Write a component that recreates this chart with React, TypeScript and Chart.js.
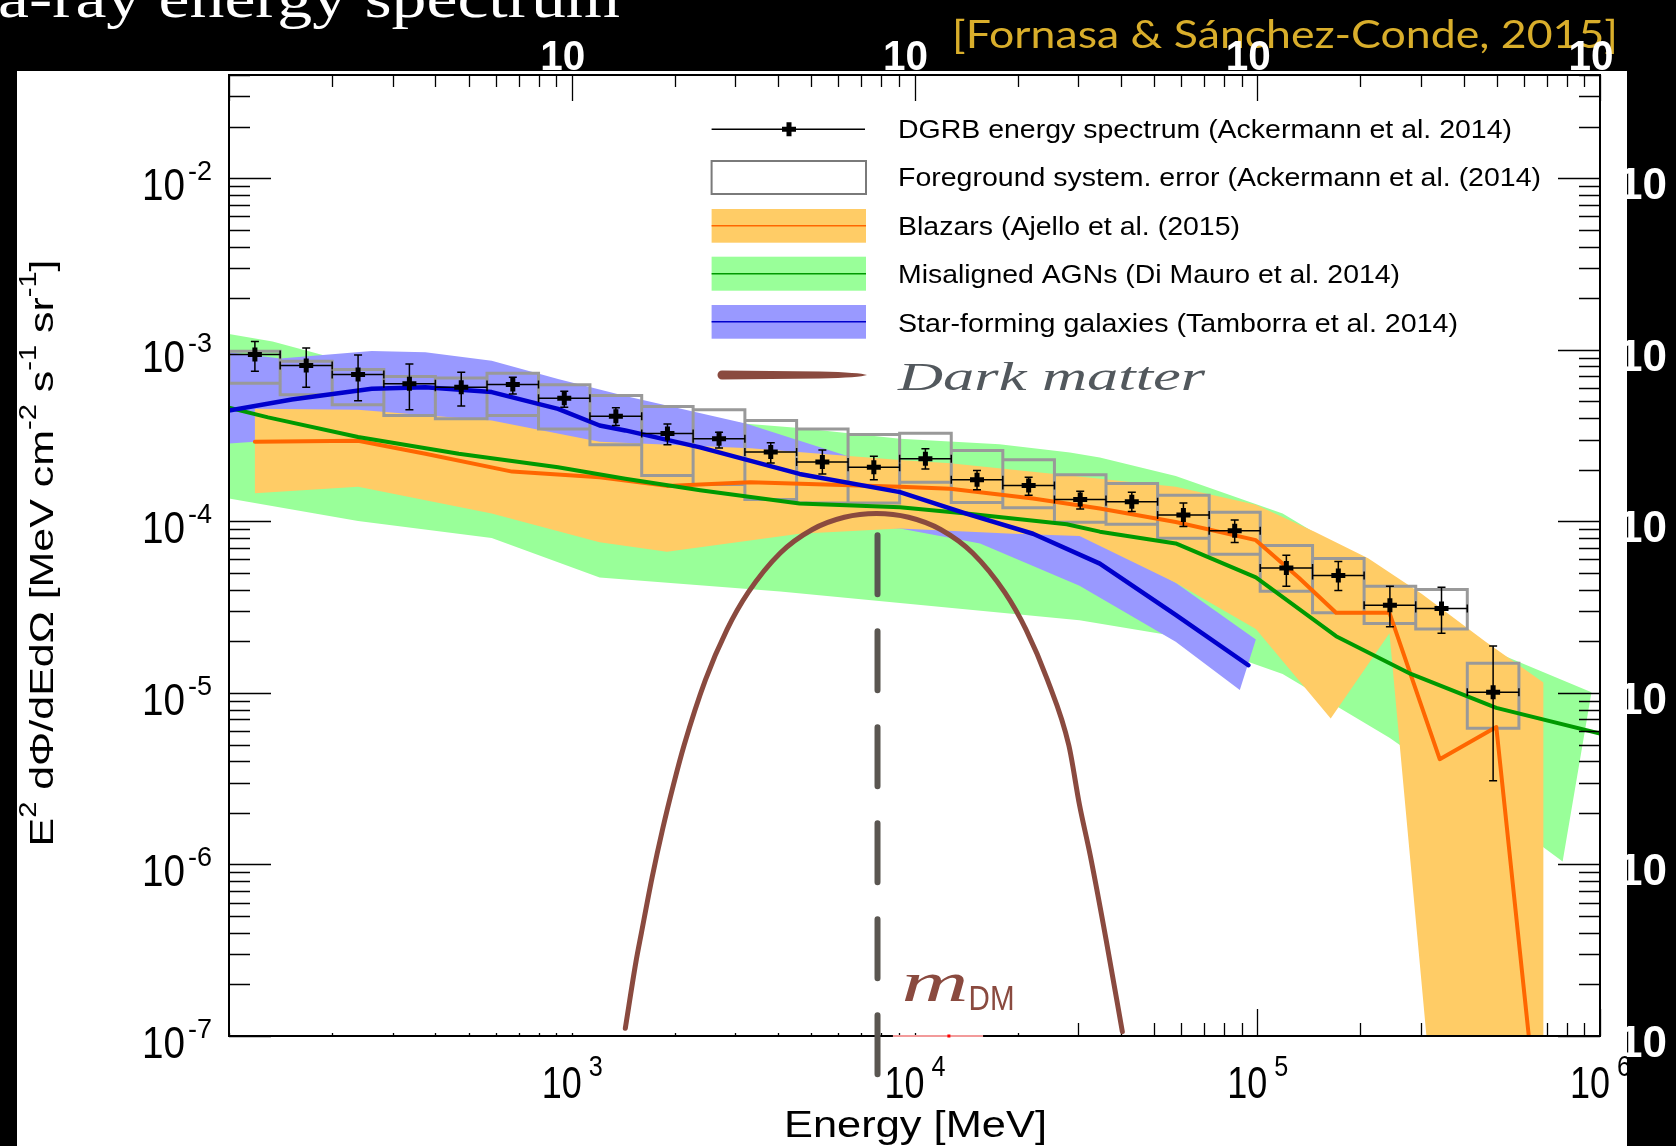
import React, { useEffect, useRef } from 'react';
import { Chart, registerables } from 'chart.js';

Chart.register(...registerables);

const W = 1676;
const H = 1146;

// ---------- texts ----------
const TITLE = 'Gamma-ray energy spectrum';
const TITLE_VISIBLE_TAIL = 'a-ray energy spectrum';
const CITATION = '[Fornasa & Sánchez-Conde, 2015]';
const X_TITLE = 'Energy [MeV]';
const Y_TITLE = [
  { t: 'E', sup: false }, { t: '2', sup: true },
  { t: ' dΦ/dEdΩ [MeV cm', sup: false }, { t: '-2', sup: true },
  { t: ' s', sup: false }, { t: '-1', sup: true },
  { t: ' sr', sup: false }, { t: '-1', sup: true },
  { t: ']', sup: false },
];
const LEGEND_LABELS = [
  'DGRB energy spectrum (Ackermann et al. 2014)',
  'Foreground system. error (Ackermann et al. (2014)',
  'Blazars (Ajello et al. (2015)',
  'Misaligned AGNs (Di Mauro et al. 2014)',
  'Star-forming galaxies (Tamborra et al. 2014)',
  'Dark matter',
];
const M_DM_LABEL = 'm';
const M_DM_SUB = 'DM';

// ---------- axes ----------
const X_MIN = 100;
const X_MAX = 1e6;
const Y_MIN = 1e-7;
const Y_MAX = 0.04;
const X_LABEL_EXP = [3, 4, 5, 6];
const Y_LABEL_EXP = [-2, -3, -4, -5, -6, -7];

// ---------- DGRB data (Ackermann et al. 2014) ----------
const binLoE = [100, 141, 200, 283, 400, 566, 800, 1130, 1600, 2260, 3200, 4530, 6400, 9050, 12800, 18100, 25600, 36200, 51200, 72400, 102000, 145000, 205000, 290000, 410000];
const binHiE = [141, 200, 283, 400, 566, 800, 1130, 1600, 2260, 3200, 4530, 6400, 9050, 12800, 18100, 25600, 36200, 51200, 72400, 102000, 145000, 205000, 290000, 410000, 580000];
const dgrbE = [119, 168, 238, 336, 476, 673, 951, 1345, 1902, 2690, 3807, 5385, 7610, 10760, 15220, 21530, 30440, 43050, 60890, 85940, 121600, 172400, 243800, 344800, 487700];
const dgrbV = [9.38e-4, 8.09e-4, 7.17e-4, 6.35e-4, 6.06e-4, 6.27e-4, 5.22e-4, 4.10e-4, 3.25e-4, 3.03e-4, 2.54e-4, 2.22e-4, 2.07e-4, 2.32e-4, 1.75e-4, 1.62e-4, 1.34e-4, 1.30e-4, 1.09e-4, 8.83e-5, 5.35e-5, 4.83e-5, 3.24e-5, 3.10e-5, 1.01e-5];
const dgrbErrHi = [1.12e-3, 1.026e-3, 9.34e-4, 8.28e-4, 7.40e-4, 6.92e-4, 5.73e-4, 4.59e-4, 3.70e-4, 3.31e-4, 2.87e-4, 2.61e-4, 2.40e-4, 2.65e-4, 1.98e-4, 1.81e-4, 1.50e-4, 1.48e-4, 1.28e-4, 1.02e-4, 6.35e-5, 5.84e-5, 4.19e-5, 4.13e-5, 1.88e-5];
const dgrbErrLo = [7.49e-4, 6.05e-4, 5.04e-4, 4.47e-4, 4.71e-4, 5.53e-4, 4.63e-4, 3.62e-4, 2.80e-4, 2.68e-4, 2.19e-4, 1.89e-4, 1.75e-4, 2.02e-4, 1.53e-4, 1.42e-4, 1.18e-4, 1.14e-4, 9.34e-5, 7.53e-5, 4.19e-5, 3.96e-5, 2.43e-5, 2.23e-5, 3.08e-6];
// foreground systematic error boxes
const fgSysHi = [9.80e-4, 8.57e-4, 7.67e-4, 6.98e-4, 6.86e-4, 7.30e-4, 6.25e-4, 5.41e-4, 4.67e-4, 4.47e-4, 3.87e-4, 3.46e-4, 3.21e-4, 3.26e-4, 2.59e-4, 2.29e-4, 1.87e-4, 1.66e-4, 1.42e-4, 1.13e-4, 7.24e-5, 6.08e-5, 4.19e-5, 4.01e-5, 1.49e-5];
const fgSysLo = [6.38e-4, 5.48e-4, 4.78e-4, 4.14e-4, 3.96e-4, 4.14e-4, 3.46e-4, 2.80e-4, 1.85e-4, 1.64e-4, 1.34e-4, 1.28e-4, 1.28e-4, 1.69e-4, 1.29e-4, 1.20e-4, 9.89e-5, 9.62e-5, 7.98e-5, 6.44e-5, 3.91e-5, 2.93e-5, 2.54e-5, 2.36e-5, 6.22e-6];

// ---------- Misaligned AGNs (green) ----------
const agnUpperE = [100, 134, 190, 380, 779, 1596, 3236, 4617, 9070, 17690, 28410, 34730, 57820, 118600, 243100, 498300, 944300];
const agnUpperV = [1.237e-3, 1.118e-3, 9.28e-4, 7.38e-4, 5.87e-4, 4.66e-4, 3.71e-4, 3.50e-4, 3.03e-4, 2.82e-4, 2.52e-4, 2.36e-4, 1.84e-4, 1.11e-4, 4.71e-5, 1.72e-5, 1.01e-5];
const agnLowerE = [100, 238, 584, 1206, 4059, 30300, 57820, 118600, 243100, 498300, 778000];
const agnLowerV = [1.36e-4, 1.006e-4, 7.99e-5, 4.71e-5, 3.90e-5, 2.65e-5, 2.14e-5, 1.29e-5, 5.48e-6, 2.01e-6, 1.04e-6];
const agnLineE = [100, 130, 238, 468, 912, 1433, 2369, 4617, 9070, 14160, 27800, 34730, 57820, 99060, 169800, 280600, 498300, 1000000];
const agnLineV = [4.60e-4, 4.04e-4, 3.10e-4, 2.48e-4, 2.07e-4, 1.77e-4, 1.52e-4, 1.27e-4, 1.21e-4, 1.11e-4, 9.63e-5, 8.71e-5, 7.44e-5, 4.71e-5, 2.14e-5, 1.29e-5, 8.18e-6, 5.8e-6];

// ---------- Star-forming galaxies (blue) ----------
const sfgUpperE = [100, 141, 261, 374, 584, 912, 1433, 3236, 6471, 13760, 28200, 57820, 99060];
const sfgUpperV = [9.69e-4, 8.89e-4, 9.83e-4, 9.69e-4, 8.64e-4, 6.77e-4, 5.38e-4, 3.71e-4, 2.38e-4, 1.78e-4, 9.63e-5, 4.38e-5, 2.05e-5];
const sfgLowerE = [100, 119, 380, 1206, 3272, 9070, 15540, 30300, 57820, 88950];
const sfgLowerV = [2.84e-4, 2.91e-4, 1.97e-4, 1.28e-4, 9.91e-5, 9.10e-5, 7.44e-5, 4.22e-5, 1.99e-5, 1.04e-5];
const sfgLineE = [100, 152.5, 261, 374, 584, 912, 1206, 1433, 2369, 4617, 9070, 14160, 22170, 34730, 57820, 94220];
const sfgLineV = [4.43e-4, 5.13e-4, 5.93e-4, 6.05e-4, 5.67e-4, 4.53e-4, 3.62e-4, 3.39e-4, 2.70e-4, 1.89e-4, 1.48e-4, 1.11e-4, 8.47e-5, 5.67e-5, 2.85e-5, 1.45e-5];

// ---------- Blazars (orange) ----------
const blzUpperE = [119, 238, 374, 584, 1206, 3320, 9070, 12710, 27800, 57820, 99060, 147000, 210600, 301600, 463800, 683500];
const blzUpperV = [4.53e-4, 4.47e-4, 4.16e-4, 3.87e-4, 2.91e-4, 2.67e-4, 2.28e-4, 2.18e-4, 1.86e-4, 1.59e-4, 1.25e-4, 8.71e-5, 6.09e-5, 3.79e-5, 1.99e-5, 1.15e-5];
const blzLowerE = [119, 238, 584, 1206, 1896, 4617, 9070, 19420, 30300, 57820, 99060, 163800, 243100, 321700, 683500];
const blzLowerV = [1.46e-4, 1.59e-4, 1.11e-4, 7.55e-5, 6.64e-5, 8.47e-5, 9.10e-5, 8.47e-5, 8.23e-5, 4.38e-5, 2.36e-5, 7.09e-6, 2.23e-5, 5e-8, 5e-8];
const blzLineE = [119, 238, 374, 670, 1206, 1896, 3320, 9070, 12710, 22170, 34730, 57820, 99060, 132000, 169800, 243100, 340700, 498300, 627100];
const blzLineV = [2.91e-4, 2.95e-4, 2.48e-4, 1.95e-4, 1.81e-4, 1.61e-4, 1.69e-4, 1.59e-4, 1.55e-4, 1.36e-4, 1.19e-4, 9.91e-5, 7.77e-5, 4.71e-5, 2.93e-5, 2.93e-5, 4.11e-6, 6.32e-6, 8.0e-8];

// ---------- Dark matter ----------
const dmE = [1433, 1539, 1596, 1715, 1843, 1980, 2127, 2455, 2835, 3272, 4059, 5034, 6243, 7745, 9610, 11920, 14780, 18340, 21170, 24430, 28200, 30300, 32560, 36270, 40400];
const dmV = [1.109e-7, 2.70e-7, 3.97e-7, 8.37e-7, 1.62e-6, 2.91e-6, 4.95e-6, 1.19e-5, 2.33e-5, 3.85e-5, 6.54e-5, 8.97e-5, 1.057e-4, 1.112e-4, 1.057e-4, 8.97e-5, 6.54e-5, 3.85e-5, 2.33e-5, 1.19e-5, 4.95e-6, 2.22e-6, 1.13e-6, 3.59e-7, 1.06e-7];
const M_DM = 7800;
const DM_DASH_TOP = 8.3e-5;
const AXIS_MARK_E = [8650, 15850];
const AXIS_MARK_DOT_E = 12600;

// ---------- colours ----------
const C_GREEN_BAND = '#99FF99';
const C_BLUE_BAND = '#9999FF';
const C_ORANGE_BAND = '#FFCC66';
const C_GREEN = '#009900';
const C_BLUE = '#0000CC';
const C_ORANGE = '#FF6600';
const C_BOX = '#999999';
const C_DM = '#8A4A3F';
const C_GOLD = '#D9AE2B';
const FONT = '"Liberation Sans", Arial, sans-serif';

// ---------- helpers ----------
const line = (e: number[], v: number[]) => e.map((x, i) => ({ x, y: v[i] }));
const band = (ue: number[], uv: number[], le: number[], lv: number[]) => {
  const pts = line(ue, uv);
  for (let i = le.length - 1; i >= 0; i--) pts.push({ x: le[i], y: lv[i] });
  return pts;
};
const boxes = () => {
  const pts: any[] = [];
  for (let i = 0; i < binLoE.length; i++) {
    pts.push({ x: binLoE[i], y: fgSysHi[i] }, { x: binHiE[i], y: fgSysHi[i] }, { x: binHiE[i], y: fgSysLo[i] },
      { x: binLoE[i], y: fgSysLo[i] }, { x: binLoE[i], y: fgSysHi[i] }, { x: binLoE[i], y: null });
  }
  return pts;
};

function fitText(ctx: CanvasRenderingContext2D, text: string, x: number, y: number, font: string, width: number, align = 'left') {
  ctx.font = font;
  const w = ctx.measureText(text).width;
  const s = width / w;
  ctx.save();
  ctx.translate(x, y);
  ctx.scale(s, 1);
  ctx.textAlign = 'left';
  ctx.textBaseline = 'alphabetic';
  const off = align === 'left' ? 0 : align === 'center' ? -w / 2 : -w;
  ctx.fillText(text, off, 0);
  ctx.restore();
}

function richText(ctx: CanvasRenderingContext2D, segs: { t: string; sup: boolean }[], width: number, font: string, supFont: string, rise: number) {
  let total = 0;
  const ws = segs.map((s) => {
    ctx.font = s.sup ? supFont : font;
    const w = ctx.measureText(s.t).width;
    total += w;
    return w;
  });
  ctx.save();
  ctx.scale(width / total, 1);
  ctx.textAlign = 'left';
  ctx.textBaseline = 'alphabetic';
  let x = -total / 2;
  segs.forEach((s, i) => {
    ctx.font = s.sup ? supFont : font;
    ctx.fillText(s.t, x, s.sup ? -rise : 0);
    x += ws[i];
  });
  ctx.restore();
}

function tickValues(lo: number, hi: number, dMin: number, dMax: number) {
  const out: { v: number; major: boolean }[] = [];
  for (let d = dMin; d <= dMax; d++) {
    for (let m = 1; m <= 9; m++) {
      const v = m * Math.pow(10, d);
      if (v >= lo * 0.999 && v <= hi * 1.001) out.push({ v, major: m === 1 });
    }
  }
  return out;
}

// ---------- plugins ----------
const backgroundPlugin = {
  id: 'slideBackground',
  beforeDraw(chart: any) {
    const ctx: CanvasRenderingContext2D = chart.ctx;
    const xs = chart.scales.x;
    const ys = chart.scales.y;
    ctx.save();
    ctx.fillStyle = '#000';
    ctx.fillRect(0, 0, W, H);
    // slide title (cut by the top of the screen)
    ctx.fillStyle = '#fff';
    ctx.font = '56px "Liberation Serif", serif';
    const wf = ctx.measureText(TITLE).width;
    const wt = ctx.measureText(TITLE_VISIBLE_TAIL).width;
    const s = 622 / wt;
    ctx.save();
    ctx.translate(620 - wf * s, 17);
    ctx.scale(s, 1);
    ctx.textBaseline = 'alphabetic';
    ctx.fillText(TITLE, 0, 0);
    ctx.restore();
    // citation
    ctx.fillStyle = C_GOLD;
    fitText(ctx, CITATION, 952, 48, '39px Lato, "Open Sans", sans-serif', 666);
    // stray axis labels on the black border
    ctx.fillStyle = '#fff';
    for (const d of X_LABEL_EXP) {
      fitText(ctx, '10', xs.getPixelForValue(Math.pow(10, d)) - 9, 70, 'bold 42px ' + FONT, 45, 'center');
    }
    for (const d of Y_LABEL_EXP) {
      fitText(ctx, '10', 1618, ys.getPixelForValue(Math.pow(10, d)) + 21, 'bold 44px ' + FONT, 49);
    }
    // white figure page
    ctx.fillStyle = '#fff';
    ctx.fillRect(17, 71, 1627 - 17, H - 71);
    ctx.restore();
  },
  beforeDatasetsDraw(chart: any) {
    const ctx: CanvasRenderingContext2D = chart.ctx;
    const xs = chart.scales.x;
    const ys = chart.scales.y;
    const { left, top, bottom } = chart.chartArea;
    ctx.save();
    ctx.strokeStyle = '#000';
    ctx.lineWidth = 1.3;
    ctx.beginPath();
    for (const t of tickValues(X_MIN, X_MAX, 2, 6)) {
      const px = Math.round(xs.getPixelForValue(t.v)) + 0.5;
      ctx.moveTo(px, top);
      ctx.lineTo(px, top + (t.major ? 26 : 12));
      const len = t.v < 2.5e4 ? 3 : t.major ? 27 : 13;
      ctx.moveTo(px, bottom);
      ctx.lineTo(px, bottom - len);
    }
    for (const t of tickValues(Y_MIN, Y_MAX, -7, -2)) {
      const py = Math.round(ys.getPixelForValue(t.v)) + 0.5;
      ctx.moveTo(left, py);
      ctx.lineTo(left + (t.major ? 42 : 21), py);
    }
    ctx.stroke();
    ctx.restore();
  },
};

const POINTS_LABEL = 'dgrb-points';
const errorBarPlugin = {
  id: 'errorBars',
  beforeDatasetDraw(chart: any, args: any) {
    if (chart.data.datasets[args.index].label !== POINTS_LABEL) return;
    const ctx: CanvasRenderingContext2D = chart.ctx;
    const xs = chart.scales.x;
    const ys = chart.scales.y;
    ctx.save();
    ctx.strokeStyle = '#000';
    ctx.lineWidth = 1.5;
    ctx.beginPath();
    for (let i = 0; i < dgrbE.length; i++) {
      const x = xs.getPixelForValue(dgrbE[i]);
      const y = ys.getPixelForValue(dgrbV[i]);
      const x0 = xs.getPixelForValue(binLoE[i]);
      const x1 = xs.getPixelForValue(binHiE[i]);
      const yh = ys.getPixelForValue(dgrbErrHi[i]);
      const yl = ys.getPixelForValue(dgrbErrLo[i]);
      ctx.moveTo(x0, y); ctx.lineTo(x1, y);
      ctx.moveTo(x0, y - 4); ctx.lineTo(x0, y + 4);
      ctx.moveTo(x1, y - 4); ctx.lineTo(x1, y + 4);
      ctx.moveTo(x, yh); ctx.lineTo(x, yl);
      ctx.moveTo(x - 4, yh); ctx.lineTo(x + 4, yh);
      ctx.moveTo(x - 4, yl); ctx.lineTo(x + 4, yl);
    }
    ctx.stroke();
    ctx.restore();
  },
};

const overlayPlugin = {
  id: 'overlay',
  afterDatasetsDraw(chart: any) {
    const ctx: CanvasRenderingContext2D = chart.ctx;
    const xs = chart.scales.x;
    const ys = chart.scales.y;
    const { left, right, top, bottom } = chart.chartArea;
    ctx.save();
    // right axis ticks (drawn over the bands)
    ctx.strokeStyle = '#000';
    ctx.lineWidth = 1.3;
    ctx.beginPath();
    for (const t of tickValues(Y_MIN, Y_MAX, -7, -2)) {
      const py = Math.round(ys.getPixelForValue(t.v)) + 0.5;
      ctx.moveTo(right, py);
      ctx.lineTo(right - (t.major ? 42 : 21), py);
    }
    ctx.stroke();
    // frame
    ctx.lineWidth = 2;
    ctx.strokeRect(left, top, right - left, bottom - top);

    // marker on the energy axis
    const ax0 = xs.getPixelForValue(AXIS_MARK_E[0]);
    const ax1 = xs.getPixelForValue(AXIS_MARK_E[1]);
    ctx.strokeStyle = '#F29A9A';
    ctx.lineWidth = 2;
    ctx.beginPath();
    ctx.moveTo(ax0, bottom); ctx.lineTo(ax1, bottom);
    ctx.stroke();
    ctx.fillStyle = '#FF0000';
    ctx.fillRect(xs.getPixelForValue(AXIS_MARK_DOT_E) - 1.5, bottom - 1.5, 3, 3);

    // dark-matter mass dashed line
    const mx = xs.getPixelForValue(M_DM);
    ctx.strokeStyle = '#5A5651';
    ctx.lineWidth = 6;
    ctx.lineCap = 'round';
    ctx.setLineDash([59, 37]);
    ctx.beginPath();
    ctx.moveTo(mx, ys.getPixelForValue(DM_DASH_TOP));
    ctx.lineTo(mx, bottom + 39);
    ctx.stroke();
    ctx.setLineDash([]);
    ctx.lineCap = 'butt';

    // m_DM label
    ctx.fillStyle = C_DM;
    fitText(ctx, M_DM_LABEL, mx + 24, bottom - 35, 'italic 56px "Liberation Serif", serif', 67);
    fitText(ctx, M_DM_SUB, mx + 91, bottom - 26, '35px ' + FONT, 46);

    // ---- labels (clipped to the white page) ----
    ctx.save();
    ctx.beginPath();
    ctx.rect(17, 71, 1627 - 17, H - 71);
    ctx.clip();
    ctx.fillStyle = '#000';
    for (const d of X_LABEL_EXP) {
      const px = xs.getPixelForValue(Math.pow(10, d));
      fitText(ctx, '10', px - 30, bottom + 62, '44px ' + FONT, 40);
      fitText(ctx, String(d), px + 17, bottom + 40, '29px ' + FONT, 14);
    }
    for (const d of Y_LABEL_EXP) {
      const py = ys.getPixelForValue(Math.pow(10, d));
      fitText(ctx, '10', left - 87, py + 22, '44px ' + FONT, 43);
      fitText(ctx, '-' + String(-d), left - 41, py + 2, '28px ' + FONT, 24);
    }
    fitText(ctx, X_TITLE, 784, bottom + 101, '37px ' + FONT, 263);
    ctx.save();
    ctx.translate(53, 553);
    ctx.rotate(-Math.PI / 2);
    richText(ctx, Y_TITLE, 587, '34px ' + FONT, '23px ' + FONT, 17);
    ctx.restore();
    ctx.restore();

    // ---- legend ----
    const sx0 = 711.6, sx1 = 866;
    // row 1: DGRB points
    ctx.strokeStyle = '#000';
    ctx.lineWidth = 1.5;
    ctx.beginPath();
    ctx.moveTo(sx0, 129.3); ctx.lineTo(sx1 - 1, 129.3);
    ctx.stroke();
    ctx.lineWidth = 5;
    ctx.beginPath();
    ctx.moveTo(782, 129.3); ctx.lineTo(796, 129.3);
    ctx.moveTo(789, 122.3); ctx.lineTo(789, 136.3);
    ctx.stroke();
    // row 2: systematic box
    ctx.fillStyle = '#fff';
    ctx.fillRect(sx0, 161, sx1 - sx0, 33);
    ctx.strokeStyle = '#7A7A7A';
    ctx.lineWidth = 2;
    ctx.strokeRect(sx0, 161, sx1 - sx0, 33);
    // rows 3-5: bands
    const rows = [
      { y0: 209, y1: 242.7, fill: C_ORANGE_BAND, stroke: C_ORANGE },
      { y0: 256.7, y1: 290.7, fill: C_GREEN_BAND, stroke: C_GREEN },
      { y0: 305, y1: 338.7, fill: C_BLUE_BAND, stroke: C_BLUE },
    ];
    for (const r of rows) {
      ctx.fillStyle = r.fill;
      ctx.fillRect(sx0, r.y0, sx1 - sx0, r.y1 - r.y0);
      ctx.strokeStyle = r.stroke;
      ctx.lineWidth = 1.5;
      ctx.beginPath();
      const ym = (r.y0 + r.y1) / 2;
      ctx.moveTo(sx0, ym); ctx.lineTo(sx1, ym);
      ctx.stroke();
    }
    // row 6: dark-matter brush stroke
    ctx.fillStyle = C_DM;
    ctx.beginPath();
    ctx.moveTo(722, 370.5);
    ctx.lineTo(820, 371.5);
    ctx.quadraticCurveTo(860, 372.5, 867, 375);
    ctx.quadraticCurveTo(860, 377.5, 820, 378.5);
    ctx.lineTo(722, 379.5);
    ctx.arc(722, 375, 4.5, Math.PI / 2, Math.PI * 1.5);
    ctx.closePath();
    ctx.fill();
    // legend texts
    ctx.fillStyle = '#000';
    const baselines = [138.3, 186, 235, 283.3, 331.7];
    const widths = [614, 643, 342, 502, 560];
    for (let i = 0; i < 5; i++) fitText(ctx, LEGEND_LABELS[i], 898, baselines[i], '25px ' + FONT, widths[i]);
    ctx.fillStyle = '#52585D';
    fitText(ctx, LEGEND_LABELS[5], 898, 390, 'italic 40px "Liberation Serif", serif', 307);
    ctx.restore();
  },
};

const lineDs = (label: string, data: any[], color: string, width: number, order: number, extra: any = {}) => ({
  label, data, borderColor: color, borderWidth: width, pointRadius: 0, fill: false, order,
  borderJoinStyle: 'round', borderCapStyle: 'round', ...extra,
});
const bandDs = (label: string, data: any[], color: string, order: number) => ({
  label, data, backgroundColor: color, borderColor: 'rgba(0,0,0,0)', borderWidth: 0, pointRadius: 0, fill: 'shape', order,
});

export default function App() {
  const ref = useRef<HTMLCanvasElement>(null);
  useEffect(() => {
    document.body.style.margin = '0';
    document.body.style.background = '#000';
    const datasets: any[] = [
      bandDs('agn-band', band(agnUpperE, agnUpperV, agnLowerE, agnLowerV), C_GREEN_BAND, 100),
      bandDs('sfg-band', band(sfgUpperE, sfgUpperV, sfgLowerE, sfgLowerV), C_BLUE_BAND, 99),
      bandDs('blazar-band', band(blzUpperE, blzUpperV, blzLowerE, blzLowerV), C_ORANGE_BAND, 98),
      {
        label: 'fg-sys-boxes', data: boxes(), borderColor: C_BOX, borderWidth: 3, pointRadius: 0, fill: false,
        spanGaps: false, borderCapStyle: 'square', borderJoinStyle: 'miter', order: 60,
      },
      lineDs('blazar-line', line(blzLineE, blzLineV), C_ORANGE, 4, 53),
      lineDs('agn-line', line(agnLineE, agnLineV), C_GREEN, 4, 52),
      lineDs('sfg-line', line(sfgLineE, sfgLineV), C_BLUE, 4.5, 51),
      {
        label: POINTS_LABEL, data: line(dgrbE, dgrbV), showLine: false, pointStyle: 'cross', pointRadius: 7,
        pointBorderWidth: 5, pointBorderColor: '#000', pointBackgroundColor: '#000', borderColor: '#000', order: 20,
      },
      lineDs('dark-matter', line(dmE, dmV), C_DM, 5, 10, { cubicInterpolationMode: 'monotone' }),
    ];
    const chart = new Chart(ref.current as HTMLCanvasElement, {
      type: 'line',
      data: { datasets },
      options: {
        responsive: false,
        animation: false,
        devicePixelRatio: 1,
        events: [],
        layout: { padding: { left: 229, top: 75, right: W - 1600, bottom: H - 1036 } },
        scales: {
          x: { type: 'logarithmic', min: X_MIN, max: X_MAX, display: false },
          y: { type: 'logarithmic', min: Y_MIN, max: Y_MAX, display: false },
        },
        plugins: { legend: { display: false }, tooltip: { enabled: false } },
      },
      plugins: [backgroundPlugin, errorBarPlugin, overlayPlugin],
    } as any);
    return () => chart.destroy();
  }, []);
  return (
    <canvas
      ref={ref}
      width={W}
      height={H}
      style={{ position: 'absolute', left: 0, top: 0, width: W, height: H, display: 'block' }}
    />
  );
}
